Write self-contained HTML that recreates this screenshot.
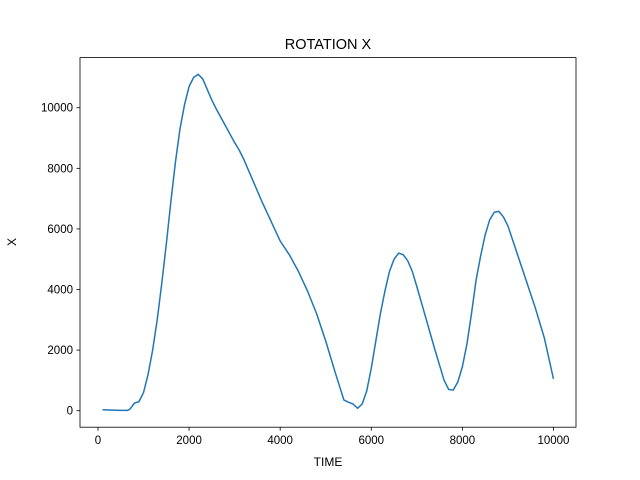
<!DOCTYPE html>
<html><head><meta charset="utf-8"><style>body{margin:0;background:#fff}svg{display:block;font-family:"Liberation Sans","DejaVu Sans",sans-serif}</style></head>
<body>
<svg id="chart" width="640" height="480">
<rect width="640" height="480" fill="#fff"/>
<text x="328" y="49" text-anchor="middle" font-size="14.5">ROTATION X</text>
<g id="plot"></g>
<text x="328" y="466" text-anchor="middle" font-size="12">TIME</text>
<text x="16" y="242" text-anchor="middle" font-size="12" transform="rotate(-90 16 242)">X</text>
</svg>
<script>
const times=[100,300,500,650,700,800,900,1000,1100,1200,1300,1400,1500,1600,1700,1800,1900,2000,2100,2200,2300,2400,2500,2600,2800,3000,3100,3200,3400,3600,3800,4000,4200,4400,4600,4800,5000,5200,5400,5500,5600,5700,5800,5900,6000,6100,6200,6300,6400,6500,6600,6700,6800,6900,7000,7200,7400,7600,7700,7800,7900,8000,8100,8200,8300,8400,8500,8600,8700,8800,8900,9000,9200,9400,9600,9800,10000];
const values=[30,20,10,10,50,250,300,600,1200,2000,3000,4200,5500,6900,8200,9300,10100,10700,11000,11100,10950,10600,10250,9950,9400,8850,8600,8300,7600,6900,6250,5600,5150,4600,3950,3200,2300,1300,350,280,220,80,220,650,1400,2300,3200,3950,4600,5000,5200,5150,4950,4600,4100,3050,2000,1000,700,680,950,1450,2200,3200,4300,5100,5800,6300,6550,6580,6400,6100,5200,4300,3400,2400,1050];
const xTicks=[0,2000,4000,6000,8000,10000];
const yTicks=[0,2000,4000,6000,8000,10000];
const L=80,R=576,T=57.6,B=427.2;
const xmin0=Math.min(...times),xmax0=Math.max(...times),ymin0=Math.min(...values),ymax0=Math.max(...values);
const xm=(xmax0-xmin0)*0.05,ym=(ymax0-ymin0)*0.05;
const x0=xmin0-xm,x1=xmax0+xm,y0=ymin0-ym,y1=ymax0+ym;
const sx=v=>L+(v-x0)/(x1-x0)*(R-L);
const sy=v=>B-(v-y0)/(y1-y0)*(B-T);
const NS="http://www.w3.org/2000/svg";
const g=document.getElementById('plot');
function mk(t,a){const e=document.createElementNS(NS,t);for(const k in a)e.setAttribute(k,a[k]);g.appendChild(e);return e;}
const line=mk('polyline',{points:times.map((t,i)=>sx(t)+','+sy(values[i])).join(' '),fill:'none',stroke:'#1f77b4','stroke-width':1.5});


xTicks.forEach(v=>{const x=sx(v);
const tk=mk('line',{x1:x,x2:x,y1:B,y2:B+3.5,stroke:'#000','stroke-width':0.8});


const tx=mk('text',{x:x,y:B+17,'text-anchor':'middle','font-size':11.5});tx.textContent=v;

});
yTicks.forEach(v=>{const y=sy(v);
const tk=mk('line',{x1:L-3.5,x2:L,y1:y,y2:y,stroke:'#000','stroke-width':0.8});


const tx=mk('text',{x:L-7,y:y+4,'text-anchor':'end','font-size':11.5});tx.textContent=v;

});
const fr=mk('rect',{x:L,y:T,width:R-L,height:B-T,fill:'none',stroke:'#000','stroke-width':0.8});


</script>
</body></html>
